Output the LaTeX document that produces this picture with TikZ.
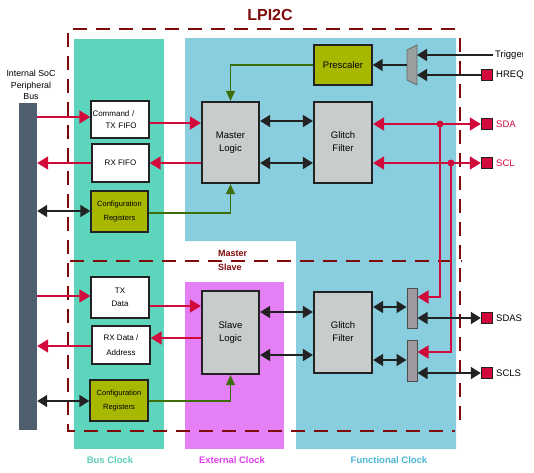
\documentclass[tikz,border=0pt]{standalone}
\usepackage{fontspec}
\setmainfont{Liberation Sans}
\usetikzlibrary{arrows.meta}
\definecolor{dred}{HTML}{7F0A0A}
\definecolor{busc}{HTML}{5DD5BD}
\definecolor{funcc}{HTML}{89CEDF}
\definecolor{extc}{HTML}{E57FF5}
\definecolor{sig}{HTML}{D20A3C}
\definecolor{olive}{HTML}{A8B800}
\definecolor{logicg}{HTML}{C8CCCC}
\definecolor{barg}{HTML}{505F6E}
\definecolor{muxg}{HTML}{9AA09E}
\definecolor{padg}{HTML}{A0989F}
\definecolor{gline}{HTML}{3C6E0A}
\definecolor{blk}{HTML}{222222}
\definecolor{buslbl}{HTML}{5CCFB8}
\definecolor{extlbl}{HTML}{E040F0}
\definecolor{funclbl}{HTML}{4BB5D5}
\begin{document}
\begin{tikzpicture}[x=1pt,y=-1pt,
  font=\fontsize{8}{12}\selectfont,
  boundary/.style={draw=dred, line width=2.8pt, dash pattern=on 14pt off 9pt},
  wbox/.style={draw=blk, line width=1.4pt, fill=white, inner sep=1pt, align=center},
  cfg/.style={draw=blk, line width=1.4pt, fill=olive, inner sep=1pt, font=\fontsize{7.5}{14}\selectfont, align=center},
  logic/.style={draw=blk, line width=2.2pt, fill=logicg, inner sep=1pt, align=center, font=\fontsize{9.5}{13}\selectfont},
  pad/.style={draw=blk, line width=1.4pt, fill=sig, minimum size=11pt, inner sep=0pt},
  sbar/.style={draw=black!70, line width=1pt, fill=padg, minimum width=10pt, inner sep=0pt},
  dot/.style={circle, fill=sig, minimum size=7pt, inner sep=0pt},
  redarr/.style={draw=sig, line width=1.6pt, -{Triangle[length=11pt,width=13pt]}},
  reddbl/.style={draw=sig, line width=1.6pt, {Triangle[length=11pt,width=13pt]}-{Triangle[length=11pt,width=13pt]}},
  blkarr/.style={draw=blk, line width=1.6pt, -{Triangle[length=10pt,width=12pt]}},
  blkdbl/.style={draw=blk, line width=1.6pt, {Triangle[length=10pt,width=12pt]}-{Triangle[length=10pt,width=12pt]}},
  garr/.style={draw=gline, line width=1.4pt, -{Triangle[length=10pt,width=9pt]}},
  plbl/.style={anchor=west, font=\fontsize{9.5}{11}\selectfont, inner sep=0pt},
  clbl/.style={font=\bfseries\fontsize{9.5}{11}\selectfont}
]
\useasboundingbox (0,0) rectangle (534,472);

% clock regions
\fill[busc] (74,39) rectangle (164,449);
\fill[funcc] (185,38) -- (456,38) -- (456,449) -- (296,449) -- (296,241) -- (185,241) -- cycle;
\fill[extc] (185,282) rectangle (284,449);

\node[clbl, text=buslbl] (lbus) at (110,460) {Bus Clock};
\node[clbl, text=extlbl] (lext) at (232,460) {External Clock};
\node[clbl, text=funclbl] (lfunc) at (389,460) {Functional Clock};

% boundary
\draw[boundary] (455,29) -- (68,29) -- (68,431) -- (455,431);
\draw[boundary] (460,38) -- (460,426);
\draw[boundary] (70,261) -- (462,261);

\node[font=\bfseries\fontsize{16}{18}\selectfont, text=dred] (title) at (270,15) {LPI2C};
\node[anchor=west, inner sep=0pt, font=\bfseries\fontsize{9}{10}\selectfont, text=dred] (lmaster) at (218,253) {Master};
\node[anchor=west, inner sep=0pt, font=\bfseries\fontsize{9}{10}\selectfont, text=dred] (lslave) at (218,267) {Slave};

% bus
\node[fill=barg, minimum width=18pt, minimum height=327pt, inner sep=0pt] (bus) at (28,266.5) {};
\node[align=center, font=\fontsize{8.8}{11.5}\selectfont] (buslbl) at (31,85) {Internal SoC\\Peripheral\\Bus};

% master side
\node[wbox, minimum width=58pt, minimum height=37pt, text width=55pt, align=left] (cmd) at (120,119.5) {Command /\\\hspace*{13pt}TX FIFO};
\node[wbox, minimum width=57pt, minimum height=38pt] (rxfifo) at (120.5,163) {RX FIFO};
\node[cfg, minimum width=57pt, minimum height=41pt] (cfgm) at (119.5,211.5) {Configuration\\Registers};
\node[logic, minimum width=57pt, minimum height=81pt] (master) at (230.5,142.5) {Master\\Logic};
\node[cfg, minimum width=58pt, minimum height=40pt, font=\fontsize{9.5}{11}\selectfont] (presc) at (343,65) {Prescaler};
\node[logic, minimum width=58pt, minimum height=81pt] (gfm) at (343,142.5) {\raisebox{5pt}{\begin{tabular}{@{}c@{}}Glitch\\Filter\end{tabular}}};

% mux
\fill[muxg, draw=black!60, line width=0.8pt] (407,50) -- (417,45) -- (417,85) -- (407,80) -- cycle;
\coordinate (muxout) at (407,65);
\coordinate (muxin1) at (417,55);
\coordinate (muxin2) at (417,75);
\coordinate (trig) at (493,55);

% pads
\node[pad] (hreq) at (487,75) {};
\node[pad] (sda) at (487,124) {};
\node[pad] (scl) at (487,163) {};
\node[pad] (sdas) at (487,318) {};
\node[pad] (scls) at (487,373) {};
\begin{scope}
\clip (0,0) rectangle (522,472);
\node[plbl] (ltrig) at (495,55) {Trigger};
\node[plbl] (lhreq) at (496,75) {HREQ};
\end{scope}
\node[plbl, text=sig] (lsda) at (496,124) {SDA};
\node[plbl, text=sig] (lscl) at (496,163) {SCL};
\node[plbl] (lsdas) at (496,318) {SDAS};
\node[plbl] (lscls) at (496,373) {SCLS};

% slave side
\node[wbox, minimum width=58pt, minimum height=41pt, font=\fontsize{8}{13}\selectfont] (txd) at (120,297.5) {TX\\Data};
\node[wbox, minimum width=58pt, minimum height=38pt, font=\fontsize{8}{15}\selectfont] (rxd) at (121,345) {RX Data /\\Address};
\node[cfg, minimum width=58pt, minimum height=41pt] (cfgs) at (119,400.5) {Configuration\\Registers};
\node[logic, minimum width=57pt, minimum height=83pt] (slave) at (230.5,332.5) {Slave\\Logic};
\node[logic, minimum width=58pt, minimum height=81pt] (gfs) at (343,332.5) {\raisebox{2pt}{\begin{tabular}{@{}c@{}}Glitch\\Filter\end{tabular}}};
\node[sbar, minimum height=40pt] (bar1) at (412,308) {};
\node[sbar, minimum height=41pt] (bar2) at (412,360.5) {};

% master connectors
\draw[redarr] (bus.east |- 0,117) -- (cmd.west |- 0,117);
\draw[redarr] (cmd.east |- 0,123) -- (master.west |- 0,123);
\draw[redarr] (master.west |- 0,163) -- (rxfifo.east |- 0,163);
\draw[redarr] (rxfifo.west |- 0,163) -- (bus.east |- 0,163);
\draw[blkdbl] (bus.east |- 0,211) -- (cfgm.west |- 0,211);
\draw[garr] (cfgm.east |- 0,213) -| (master.south);
\draw[garr] (presc.west) -| (master.north);
\draw[blkdbl] (master.east |- 0,121) -- (gfm.west |- 0,121);
\draw[blkdbl] (master.east |- 0,163) -- (gfm.west |- 0,163);
\draw[blkarr] (muxout) -- (presc.east);
\draw[blkarr] (trig) -- (muxin1);
\draw[blkarr] (hreq.west) -- (muxin2);

% SDA / SCL
\node[dot] (sdadot) at (440,124) {};
\node[dot] (scldot) at (451,163) {};
\draw[reddbl] (gfm.east |- 0,124) -- (sda.west);
\draw[reddbl] (gfm.east |- 0,163) -- (scl.west);
\draw[redarr] (sdadot.center) |- (bar1.east |- 0,297);
\draw[redarr] (scldot.center) |- (bar2.east |- 0,352);

% slave connectors
\draw[redarr] (bus.east |- 0,296) -- (txd.west |- 0,296);
\draw[redarr] (txd.east |- 0,306) -- (slave.west |- 0,306);
\draw[redarr] (slave.west |- 0,338) -- (rxd.east |- 0,338);
\draw[redarr] (rxd.west |- 0,346) -- (bus.east |- 0,346);
\draw[blkdbl] (bus.east |- 0,401) -- (cfgs.west |- 0,401);
\draw[garr] (cfgs.east |- 0,401) -| (slave.south);
\draw[blkdbl] (slave.east |- 0,312) -- (gfs.west |- 0,312);
\draw[blkdbl] (slave.east |- 0,355) -- (gfs.west |- 0,355);
\draw[blkdbl] (gfs.east |- 0,307) -- (bar1.west |- 0,307);
\draw[blkdbl] (gfs.east |- 0,360) -- (bar2.west |- 0,360);
\draw[blkdbl] (bar1.east |- 0,318) -- (sdas.west);
\draw[blkdbl] (bar2.east |- 0,373) -- (scls.west);
\end{tikzpicture}
\end{document}
